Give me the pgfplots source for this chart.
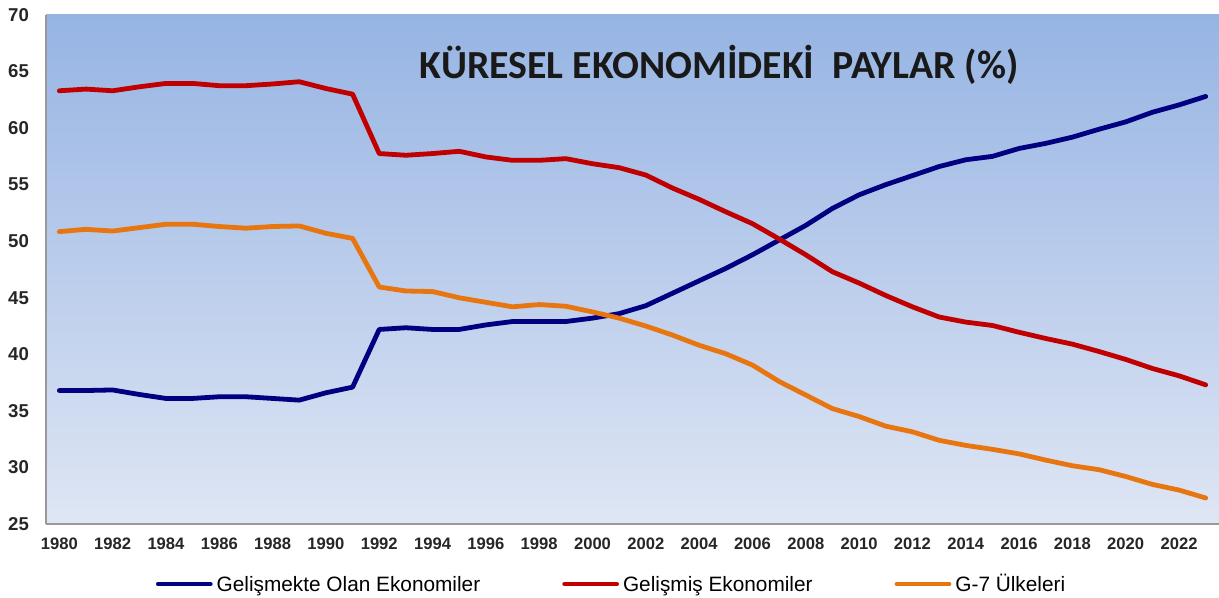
\documentclass[border=0pt]{standalone}
\usepackage{pgfplots}
\pgfplotsset{compat=1.18}
\usepackage{pgfplotstable}
\usepackage{fontspec}
\setmainfont{Liberation Sans}
\newfontfamily\titlefont{Carlito}
\definecolor{cblue}{RGB}{0,0,128}
\definecolor{cred}{RGB}{192,0,0}
\definecolor{corange}{RGB}{232,118,16}
\definecolor{bgtop}{RGB}{150,180,227}
\definecolor{bgbot}{RGB}{223,230,244}
\pgfplotstableread{
year dev adv g7
1980 36.8 63.3 50.85
1981 36.8 63.45 51.05
1982 36.85 63.3 50.9
1983 36.45 63.65 51.2
1984 36.1 63.95 51.5
1985 36.1 63.95 51.5
1986 36.25 63.75 51.3
1987 36.25 63.75 51.15
1988 36.1 63.9 51.3
1989 35.95 64.1 51.35
1990 36.6 63.5 50.7
1991 37.1 63.0 50.25
1992 42.2 57.75 45.95
1993 42.35 57.6 45.6
1994 42.2 57.75 45.55
1995 42.2 57.95 45.0
1996 42.6 57.45 44.6
1997 42.9 57.15 44.2
1998 42.9 57.15 44.4
1999 42.9 57.3 44.25
2000 43.2 56.85 43.75
2001 43.6 56.5 43.2
2002 44.3 55.85 42.5
2003 45.4 54.7 41.7
2004 46.5 53.7 40.8
2005 47.6 52.6 40.05
2006 48.8 51.55 39.05
2007 50.1 50.2 37.6
2008 51.4 48.8 36.4
2009 52.9 47.3 35.2
2010 54.1 46.3 34.5
2011 55.0 45.2 33.65
2012 55.8 44.2 33.15
2013 56.6 43.3 32.4
2014 57.2 42.85 31.95
2015 57.5 42.55 31.6
2016 58.2 41.95 31.2
2017 58.65 41.4 30.65
2018 59.2 40.9 30.15
2019 59.9 40.25 29.8
2020 60.55 39.55 29.2
2021 61.4 38.75 28.5
2022 62.05 38.1 28.0
2023 62.8 37.3 27.3
}\datatable
\begin{document}
\begin{tikzpicture}
\useasboundingbox (0,0) rectangle (609.5pt,299pt);
\begin{axis}[
  at={(23pt,37pt)}, anchor=south west,
  scale only axis, width=586.5pt, height=254.5pt,
  xmin=1979.5, xmax=2023.5, ymin=25, ymax=70,
  xtick={1980,1982,...,2022}, ytick={25,30,...,70},
  /pgf/number format/1000 sep={},
  /pgf/number format/assume math mode=true,
  axis x line*=bottom, axis y line*=left,
  axis line style={draw=gray!80, line width=0.8pt, -},
  major tick length=0pt,
  xticklabel style={font=\bfseries\fontsize{8.3}{9}\selectfont, text=black!85, yshift=-3.5pt},
  yticklabel style={font=\bfseries\fontsize{9.3}{10}\selectfont, text=black!85, xshift=-5pt},
  axis background/.style={shade, top color=bgtop, bottom color=bgbot},
  legend columns=3,
  legend style={at={(axis description cs:0.483,-0.118)}, anchor=center, draw=none, fill=none,
    font=\fontsize{10.4}{12}\selectfont,
    nodes={text height=1.9ex, text depth=0.4ex},
    /tikz/every even column/.append style={column sep=39pt}},
  legend image code/.code={\draw[#1, line width=2.4pt] (0pt,0pt) -- (26pt,0pt);},
  every axis plot/.append style={line width=2.4pt, line join=round, line cap=round},
]
\addplot[cblue, no marks] table[x=year, y=dev] {\datatable};
\addlegendentry{Gelişmekte Olan Ekonomiler}
\addplot[cred, no marks] table[x=year, y=adv] {\datatable};
\addlegendentry{Gelişmiş Ekonomiler}
\addplot[corange, no marks] table[x=year, y=g7] {\datatable};
\addlegendentry{G-7 Ülkeleri}
\node[font=\titlefont\bfseries\fontsize{19.9}{21}\selectfont, text=black!90] at (axis description cs:0.574,0.902) {KÜRESEL EKONOMİDEKİ\ \ PAYLAR (\%)};
\end{axis}
\end{tikzpicture}
\end{document}
